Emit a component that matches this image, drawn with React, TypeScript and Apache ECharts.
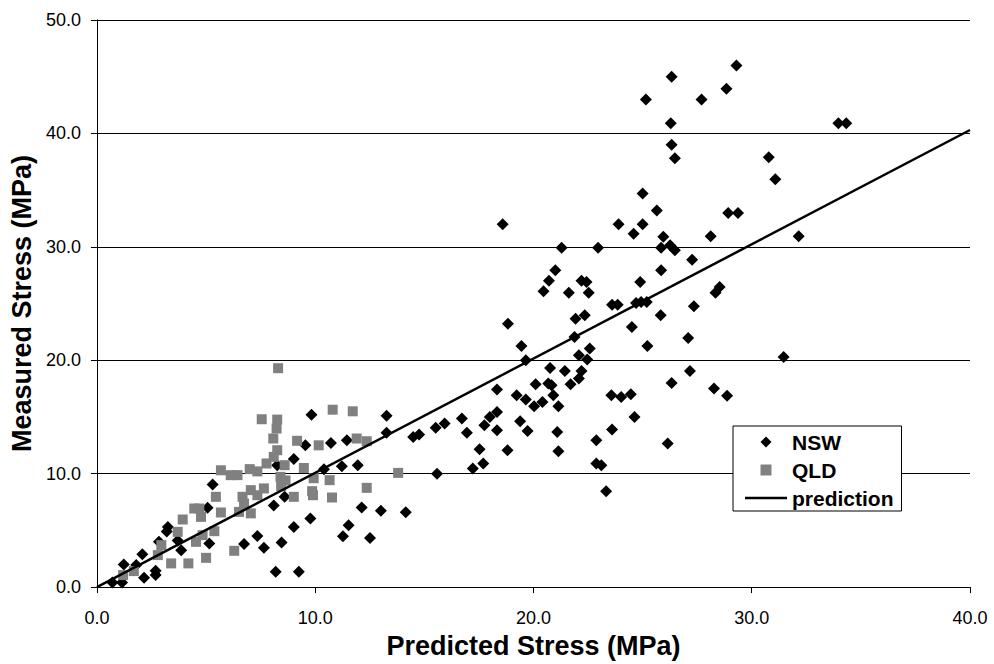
import React, { useEffect, useRef } from "react";
import * as echarts from "echarts";

const xTicks = [0, 10, 20, 30, 40];
const yTicks = [0, 10, 20, 30, 40, 50];

const nswPoints: number[][] = [
  [0.71, 0.41], [1.15, 0.41], [1.23, 2.0], [1.8, 1.94], [2.08, 2.9], [2.16, 0.82], [2.69, 1.44], [2.69, 1.06],
  [2.84, 4.0], [3.2, 4.9], [3.25, 5.3], [3.7, 4.1], [3.86, 3.26], [5.07, 7.0], [5.15, 3.85], [5.3, 9.05],
  [6.74, 3.79], [7.35, 4.5], [7.65, 3.46], [8.1, 7.2], [8.19, 1.35], [8.26, 10.75], [8.46, 3.94], [8.6, 7.96],
  [9.02, 11.3], [9.02, 5.3], [9.25, 1.35], [9.55, 12.5], [9.78, 6.05], [9.83, 15.2], [10.4, 10.4],
  [10.72, 12.7], [11.45, 12.95], [11.22, 10.66], [11.95, 10.75], [13.27, 15.1], [13.27, 13.6], [14.49, 13.24],
  [14.76, 13.45], [15.52, 14.04], [15.93, 14.42], [16.72, 14.86], [16.95, 13.6], [17.75, 14.27], [18.0, 15.0],
  [18.33, 15.44], [18.33, 17.42], [18.33, 13.83], [17.53, 12.16], [17.7, 10.9], [17.22, 10.46], [15.58, 10.0],
  [12.13, 7.02], [13.01, 6.73], [14.15, 6.6], [11.53, 5.46], [11.27, 4.49], [12.51, 4.34],
  [18.59, 32.0], [21.29, 29.93], [22.96, 29.93], [21.0, 27.93], [20.71, 27.0], [20.46, 26.08], [22.2, 27.0],
  [22.43, 26.9], [21.62, 25.96], [22.53, 25.96], [25.85, 27.93], [24.89, 26.9], [23.6, 24.9], [23.86, 24.9],
  [24.7, 25.05], [24.93, 25.14], [25.19, 25.14], [21.93, 23.67], [22.35, 23.96], [18.83, 23.23], [25.83, 23.96],
  [24.51, 22.93], [21.88, 22.05], [19.45, 21.26], [25.22, 21.26], [19.65, 20.0], [22.08, 20.44], [22.58, 21.03],
  [22.46, 20.06], [20.76, 19.32], [21.44, 19.06], [22.2, 19.06], [22.08, 18.39], [21.7, 17.89], [20.1, 17.89],
  [20.68, 17.95], [20.83, 17.8], [19.23, 16.92], [19.65, 16.54], [20.03, 15.95], [20.41, 16.33], [20.91, 16.92],
  [21.14, 15.95], [19.39, 14.63], [19.73, 13.77], [18.81, 12.07], [21.09, 13.68], [21.14, 11.98], [23.57, 16.92],
  [24.02, 16.77], [24.46, 17.0], [26.33, 18.0], [24.63, 15.0], [23.6, 13.89], [22.88, 12.95], [26.15, 12.66],
  [22.88, 10.9], [23.11, 10.75], [23.33, 8.46],
  [25.0, 34.7], [25.65, 33.2], [23.9, 32.0], [25.0, 32.0], [24.59, 31.16], [25.95, 30.9], [25.85, 29.93],
  [26.26, 30.13], [26.48, 29.7],
  [25.15, 43.0], [26.33, 45.0], [27.7, 43.0], [28.84, 43.94], [29.3, 45.99], [26.29, 40.9], [26.33, 39.0],
  [26.48, 37.8], [30.78, 37.9], [31.08, 35.95], [33.97, 40.9], [34.33, 40.9],
  [28.92, 32.98], [29.37, 32.98], [28.12, 30.93], [32.15, 30.93], [27.27, 28.87], [28.53, 26.46], [28.34, 25.96],
  [27.35, 24.76], [27.09, 21.97], [31.46, 20.29], [27.17, 19.06], [28.27, 17.5], [28.87, 16.86],
];

const qldPoints: number[][] = [
  [7.55, 14.8], [8.26, 14.77], [8.23, 13.98], [8.08, 13.1], [8.26, 12.07], [8.1, 11.48], [9.17, 12.9],
  [10.16, 12.5], [7.77, 10.9], [8.6, 10.75], [5.68, 10.3], [6.13, 9.87], [6.44, 9.87], [7.0, 10.4],
  [7.35, 10.2], [9.48, 10.5], [8.41, 9.72], [8.64, 9.4], [8.44, 8.9], [9.93, 9.6], [9.86, 8.46], [9.9, 8.1],
  [9.02, 7.96], [5.45, 7.96], [6.67, 7.96], [7.05, 8.55], [7.35, 8.1], [7.65, 8.7], [6.74, 7.37], [6.51, 6.63],
  [7.05, 6.5], [5.68, 6.58], [4.69, 6.93], [4.46, 6.93], [4.77, 6.19], [3.93, 5.96], [3.7, 4.87], [5.38, 4.93],
  [4.84, 4.58], [4.54, 3.99], [2.95, 3.7], [2.79, 2.82], [3.4, 2.09], [4.19, 2.09], [5.0, 2.58], [6.29, 3.2],
  [1.69, 1.41], [1.2, 1.06],
  [8.3, 19.3], [10.8, 15.64], [11.72, 15.5], [11.9, 13.1], [12.36, 12.86], [13.8, 10.07], [10.66, 9.43],
  [12.36, 8.75], [10.77, 7.9],
];

const predictionPoints: number[][] = [
  [0, 0],
  [40, 40.3],
];

const FONT = "'Liberation Sans', Arial, sans-serif";

export default function App() {
  const ref = useRef<HTMLDivElement>(null);
  useEffect(() => {
    if (!ref.current) return;
    const chart = echarts.init(ref.current, null, { renderer: "svg" });
    chart.setOption({
      animation: false,
      backgroundColor: "#ffffff",
      grid: { left: 92, right: 24, top: 20, bottom: 76, containLabel: false },
      xAxis: {
        type: "value",
        min: xTicks[0],
        max: xTicks[xTicks.length - 1],
        interval: 10,
        name: "Predicted Stress (MPa)",
        nameLocation: "middle",
        nameGap: 40,
        nameTextStyle: { fontFamily: FONT, fontWeight: "bold", fontSize: 27, color: "#000" },
        axisLine: { show: true, onZero: false, lineStyle: { color: "#000", width: 1 } },
        axisTick: { show: true, inside: false, length: 6, lineStyle: { color: "#000" } },
        axisLabel: {
          margin: 22,
          fontFamily: FONT,
          fontSize: 18,
          color: "#000",
          formatter: (v: number) => v.toFixed(1),
        },
        splitLine: { show: false },
      },
      yAxis: {
        type: "value",
        min: yTicks[0],
        max: yTicks[yTicks.length - 1],
        interval: 10,
        name: "Measured Stress (MPa)",
        nameLocation: "middle",
        nameGap: 61,
        nameTextStyle: { fontFamily: FONT, fontWeight: "bold", fontSize: 27, color: "#000" },
        axisLine: { show: true, onZero: false, lineStyle: { color: "#000", width: 1 } },
        axisTick: { show: true, inside: false, length: 6, lineStyle: { color: "#000" } },
        axisLabel: {
          margin: 16,
          fontFamily: FONT,
          fontSize: 18,
          color: "#000",
          formatter: (v: number) => v.toFixed(1),
        },
        splitLine: { show: true, lineStyle: { color: "#000", width: 1 } },
      },
      legend: {
        orient: "vertical",
        left: 733,
        top: 426,
        backgroundColor: "#ffffff",
        borderColor: "#000",
        borderWidth: 1,
        padding: [5, 8, 2, 12],
        itemWidth: 42,
        itemHeight: 11,
        itemGap: 6,
        symbolKeepAspect: true,
        textStyle: { fontFamily: FONT, fontWeight: "bold", fontSize: 21, color: "#000", lineHeight: 22 },
        data: [
          { name: "NSW", icon: "path://M5.5,0 L11,5.5 L5.5,11 L0,5.5 Z", itemStyle: { color: "#000000", opacity: 1 } },
          { name: "QLD", icon: "path://M0,0 L10,0 L10,10 L0,10 Z", itemStyle: { color: "#808080", opacity: 1 } },
          { name: "prediction", icon: "path://M0,0 L42,0 L42,2.5 L0,2.5 Z", itemStyle: { color: "#000000", opacity: 1 } },
        ],
      },
      series: [
        {
          name: "NSW",
          type: "scatter",
          symbol: "diamond",
          symbolSize: 12,
          itemStyle: { color: "#000000", opacity: 1 },
          data: nswPoints,
          z: 2,
        },
        {
          name: "QLD",
          type: "scatter",
          symbol: "rect",
          symbolSize: 10,
          itemStyle: { color: "#808080", opacity: 1 },
          data: qldPoints,
          z: 3,
        },
        {
          name: "prediction",
          type: "line",
          symbol: "none",
          showSymbol: false,
          lineStyle: { color: "#000000", width: 2.5 },
          itemStyle: { color: "#000000" },
          data: predictionPoints,
          z: 4,
        },
      ],
    });
    return () => chart.dispose();
  }, []);
  return (
    <div
      ref={ref}
      style={{ position: "absolute", left: 0, top: 0, width: 994, height: 664 }}
    />
  );
}
